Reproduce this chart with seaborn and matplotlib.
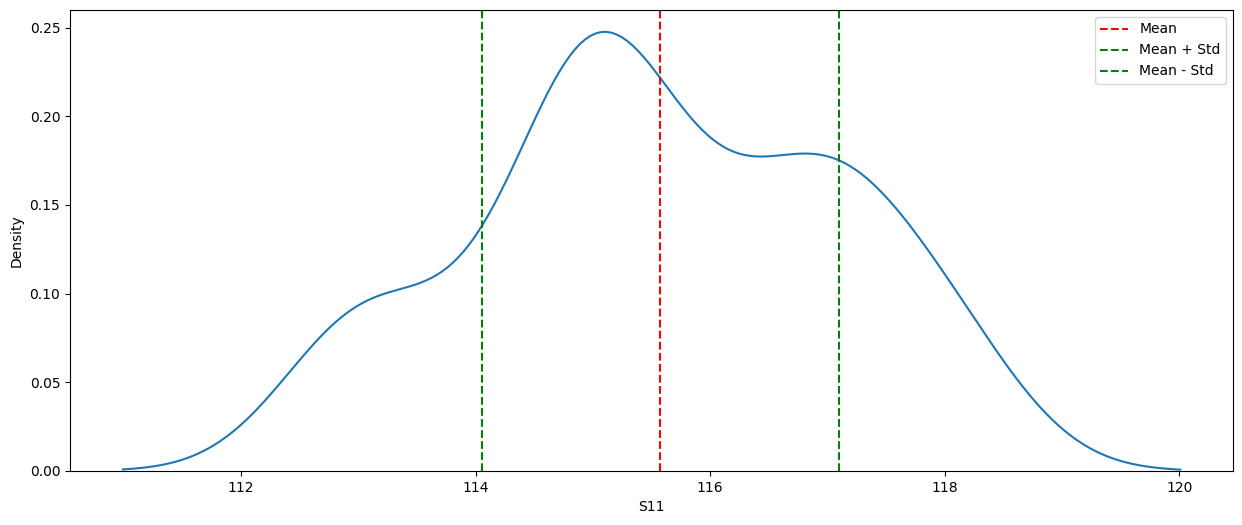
import numpy as np
import pandas as pd
import matplotlib
import matplotlib.pyplot as plt
import seaborn as sns

matplotlib.use('Agg')

# S11 readings (integer values and how often each occurs)
s11_values = [113, 114, 115, 116, 117, 118]
s11_counts = [8, 4, 21, 8, 13, 7]

df = pd.DataFrame({'S11': np.repeat(s11_values, s11_counts)})
mean = df['S11'].mean()
std = df['S11'].std()

fig, ax = plt.subplots(figsize=(12.42, 5.25), dpi=100)
fig.subplots_adjust(left=0.0564, right=0.9928, top=0.981, bottom=0.1029)

sns.kdeplot(data=df, x='S11', ax=ax)
ax.axvline(mean, color='r', linestyle='--', label='Mean')
ax.axvline(mean + std, color='g', linestyle='--', label='Mean + Std')
ax.axvline(mean - std, color='g', linestyle='--', label='Mean - Std')
ax.legend(loc='upper right')

fig.savefig('out.png')
